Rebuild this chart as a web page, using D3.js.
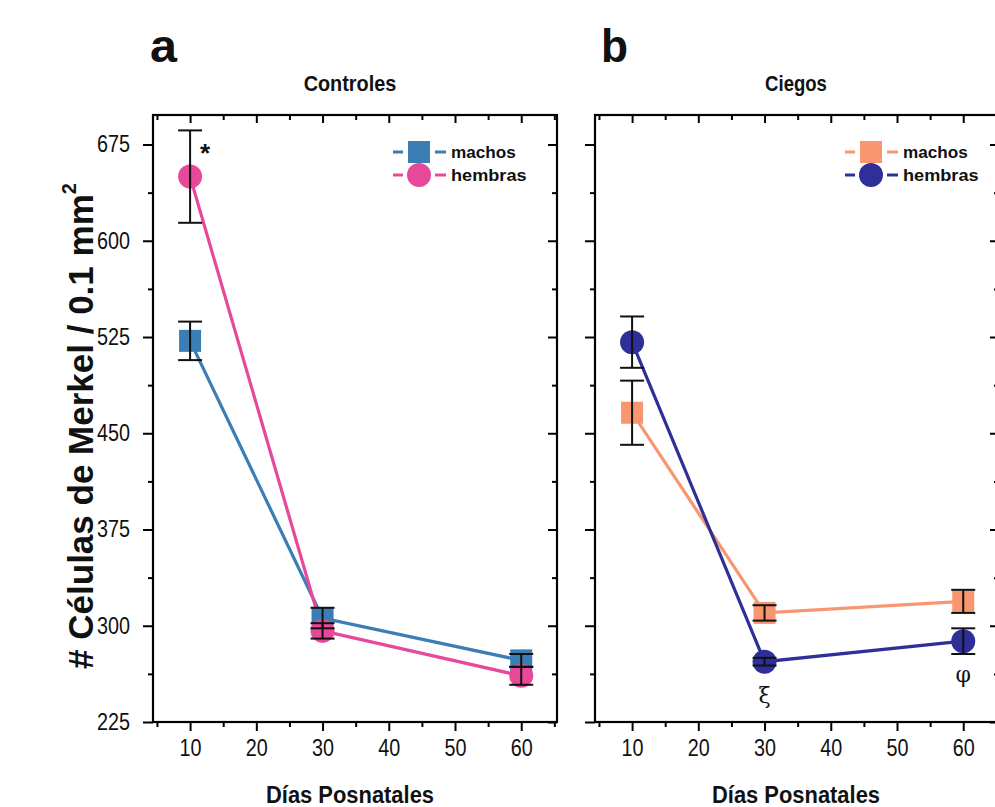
<!DOCTYPE html>
<html>
<head>
<meta charset="utf-8">
<script src="https://cdn.jsdelivr.net/npm/d3@7"></script>
<style>
  html, body { margin: 0; padding: 0; background: #ffffff; }
  svg { display: block; }
</style>
</head>
<body>
<svg id="chart" width="995" height="807"></svg>
<script>
// ---------- data ----------
const days = [10, 30, 60];
const xTicks = [10, 20, 30, 40, 50, 60];
const yTicks = [225, 300, 375, 450, 525, 600, 675];

const ctrlMachos = [522, 306, 273];
const ctrlMachosErr = [15, 8, 5];
const ctrlHembras = [650, 296, 261];
const ctrlHembrasErr = [36, 6, 7];

const ciegoMachos = [466, 310, 319];
const ciegoMachosErr = [25, 6, 9];
const ciegoHembras = [521, 272, 288];
const ciegoHembrasErr = [20, 3, 10];

const seriesNames = ["machos", "hembras"];
const panelTitles = ["Controles", "Ciegos"];
const panelLetters = ["a", "b"];
const xTitle = "Días Posnatales";
const yTitle = "# Células de Merkel / 0.1 mm";

// ---------- layout ----------
const svg = d3.select("#chart");
const plotTop = 115, plotBottom = 722;
const panels = [
  { left: 153, right: 557, title: panelTitles[0], letter: panelLetters[0], cx: 350, letterX: 150,
    series: [
      { name: seriesNames[0], vals: ctrlMachos, err: ctrlMachosErr, color: "#3b7db5", shape: "square" },
      { name: seriesNames[1], vals: ctrlHembras, err: ctrlHembrasErr, color: "#e8489a", shape: "circle" }
    ], legendX: 393, yLabels: true },
  { left: 595, right: 999, title: panelTitles[1], letter: panelLetters[1], cx: 796, letterX: 601,
    series: [
      { name: seriesNames[0], vals: ciegoMachos, err: ciegoMachosErr, color: "#f7966f", shape: "square" },
      { name: seriesNames[1], vals: ciegoHembras, err: ciegoHembrasErr, color: "#2e2f98", shape: "circle" }
    ], legendX: 845, yLabels: false }
];

const y = d3.scaleLinear().domain([225, 698]).range([plotBottom, plotTop]);
const tickFont = "'Liberation Sans', Arial, sans-serif";

function styleTicks(sel) {
  sel.select(".domain").remove();
  sel.selectAll("line").attr("stroke", "#000").attr("stroke-width", 2);
}
function condense(sel, perChar) {
  sel.each(function () {
    const t = d3.select(this);
    const n = t.text().length;
    if (n) t.attr("textLength", n * perChar).attr("lengthAdjust", "spacingAndGlyphs");
  });
}

panels.forEach((p, pi) => {
  const x = d3.scaleLinear().domain([4.4, 65.4]).range([p.left, p.right]);
  const g = svg.append("g");
  const xMinor = [5, 15, 25, 35, 45, 55, 65];
  const yMinor = [262.5, 337.5, 412.5, 487.5, 562.5, 637.5];

  // bottom axis (outward ticks)
  const gx = g.append("g").attr("transform", `translate(0,${plotBottom})`)
    .call(d3.axisBottom(x).tickValues(xTicks).tickSize(9).tickPadding(9).tickFormat(d3.format("d")));
  styleTicks(gx);
  gx.selectAll("text").attr("font-family", tickFont).attr("font-size", 23).attr("fill", "#111");
  condense(gx.selectAll("text"), 11);
  styleTicks(g.append("g").attr("transform", `translate(0,${plotBottom})`)
    .call(d3.axisBottom(x).tickValues(xMinor).tickSize(5).tickFormat("")));

  // top axis ticks (inward)
  styleTicks(g.append("g").attr("transform", `translate(0,${plotTop})`)
    .call(d3.axisTop(x).tickValues(xTicks).tickSize(-8).tickFormat("")));
  styleTicks(g.append("g").attr("transform", `translate(0,${plotTop})`)
    .call(d3.axisTop(x).tickValues(xMinor).tickSize(-5).tickFormat("")));

  // left axis (outward)
  const gy = g.append("g").attr("transform", `translate(${p.left},0)`)
    .call(d3.axisLeft(y).tickValues(yTicks).tickSize(10).tickPadding(13)
      .tickFormat(p.yLabels ? d3.format("d") : ""));
  styleTicks(gy);
  gy.selectAll("text").attr("font-family", tickFont).attr("font-size", 23).attr("fill", "#111");
  condense(gy.selectAll("text"), 11);
  styleTicks(g.append("g").attr("transform", `translate(${p.left},0)`)
    .call(d3.axisLeft(y).tickValues(yMinor).tickSize(5).tickFormat("")));

  // right axis (inward)
  styleTicks(g.append("g").attr("transform", `translate(${p.right},0)`)
    .call(d3.axisRight(y).tickValues(yTicks).tickSize(-9).tickFormat("")));
  styleTicks(g.append("g").attr("transform", `translate(${p.right},0)`)
    .call(d3.axisRight(y).tickValues(yMinor).tickSize(-5).tickFormat("")));

  // frame
  g.append("rect").attr("x", p.left).attr("y", plotTop)
    .attr("width", p.right - p.left).attr("height", plotBottom - plotTop)
    .attr("fill", "none").attr("stroke", "#000").attr("stroke-width", 2.2);

  // titles
  g.append("text").attr("x", p.letterX).attr("y", 62).text(p.letter)
    .attr("font-family", tickFont).attr("font-weight", "bold").attr("font-size", 46).attr("fill", "#111")
    .attr("textLength", 27).attr("lengthAdjust", "spacingAndGlyphs");
  g.append("text").attr("x", p.cx).attr("y", 91)
    .attr("text-anchor", "middle").text(p.title)
    .attr("font-family", tickFont).attr("font-weight", "bold").attr("font-size", 22).attr("fill", "#111")
    .attr("textLength", p.title.length * 10.3).attr("lengthAdjust", "spacingAndGlyphs");
  g.append("text").attr("x", p.cx).attr("y", 803)
    .attr("text-anchor", "middle").text(xTitle)
    .attr("font-family", tickFont).attr("font-weight", "bold").attr("font-size", 23).attr("fill", "#111")
    .attr("textLength", 168).attr("lengthAdjust", "spacingAndGlyphs");

  // lines
  const line = d3.line().x((d, i) => x(days[i])).y(d => y(d));
  p.series.forEach(s => {
    g.append("path").datum(s.vals).attr("d", line)
      .attr("fill", "none").attr("stroke", s.color).attr("stroke-width", 3.2);
  });
  // markers
  p.series.forEach(s => {
    const mg = g.append("g");
    if (s.shape === "square") {
      mg.selectAll("rect").data(s.vals).join("rect")
        .attr("x", (d, i) => x(days[i]) - 11).attr("y", d => y(d) - 11)
        .attr("width", 22).attr("height", 22).attr("fill", s.color);
    } else {
      mg.selectAll("circle").data(s.vals).join("circle")
        .attr("cx", (d, i) => x(days[i])).attr("cy", d => y(d))
        .attr("r", 12).attr("fill", s.color);
    }
  });
  // error bars
  p.series.forEach(s => {
    const eg = g.append("g").attr("stroke", "#111").attr("stroke-width", 2);
    s.vals.forEach((v, i) => {
      const cx = x(days[i]);
      const y1 = y(v + s.err[i]), y2 = y(v - s.err[i]);
      eg.append("line").attr("x1", cx).attr("x2", cx).attr("y1", y1).attr("y2", y2);
      eg.append("line").attr("x1", cx - 12).attr("x2", cx + 12).attr("y1", y1).attr("y2", y1);
      eg.append("line").attr("x1", cx - 12).attr("x2", cx + 12).attr("y1", y2).attr("y2", y2);
    });
  });

  // legend
  p.series.forEach((s, si) => {
    const ly = 152 + si * 23;
    const lg = g.append("g");
    lg.append("line").attr("x1", p.legendX).attr("x2", p.legendX + 10).attr("y1", ly).attr("y2", ly)
      .attr("stroke", s.color).attr("stroke-width", 3);
    lg.append("line").attr("x1", p.legendX + 42).attr("x2", p.legendX + 53).attr("y1", ly).attr("y2", ly)
      .attr("stroke", s.color).attr("stroke-width", 3);
    if (s.shape === "square") {
      lg.append("rect").attr("x", p.legendX + 15).attr("y", ly - 11).attr("width", 22).attr("height", 22).attr("fill", s.color);
    } else {
      lg.append("circle").attr("cx", p.legendX + 26).attr("cy", ly).attr("r", 12).attr("fill", s.color);
    }
    lg.append("text").attr("x", p.legendX + 58).attr("y", ly + 6).text(s.name)
      .attr("font-family", tickFont).attr("font-weight", "bold").attr("font-size", 17).attr("fill", "#111")
      .attr("textLength", s.name.length * 10.8).attr("lengthAdjust", "spacingAndGlyphs");
  });
});

// y axis title
const yt = svg.append("text")
  .attr("transform", "translate(93,426) rotate(-90)")
  .attr("text-anchor", "middle")
  .attr("font-family", tickFont).attr("font-weight", "bold").attr("font-size", 35).attr("fill", "#111");
yt.append("tspan").text(yTitle);
yt.append("tspan").attr("dy", -17).attr("font-size", 20).text("2");

// annotations
const xa = d3.scaleLinear().domain([4.4, 65.4]).range([153, 557]);
const xb = d3.scaleLinear().domain([4.4, 65.4]).range([595, 999]);
svg.append("text").attr("x", xa(10) + 10).attr("y", y(ctrlHembras[0] + 11)).text("*")
  .attr("font-family", tickFont).attr("font-weight", "bold").attr("font-size", 26).attr("fill", "#111");
svg.append("text").attr("x", xb(30)).attr("y", y(240)).attr("text-anchor", "middle").text("ξ")
  .attr("font-family", "'DejaVu Serif', serif").attr("font-size", 22).attr("fill", "#111");
svg.append("text").attr("x", xb(60)).attr("y", y(256)).attr("text-anchor", "middle").text("φ")
  .attr("font-family", "'DejaVu Serif', serif").attr("font-size", 22).attr("fill", "#111");
</script>
</body>
</html>
